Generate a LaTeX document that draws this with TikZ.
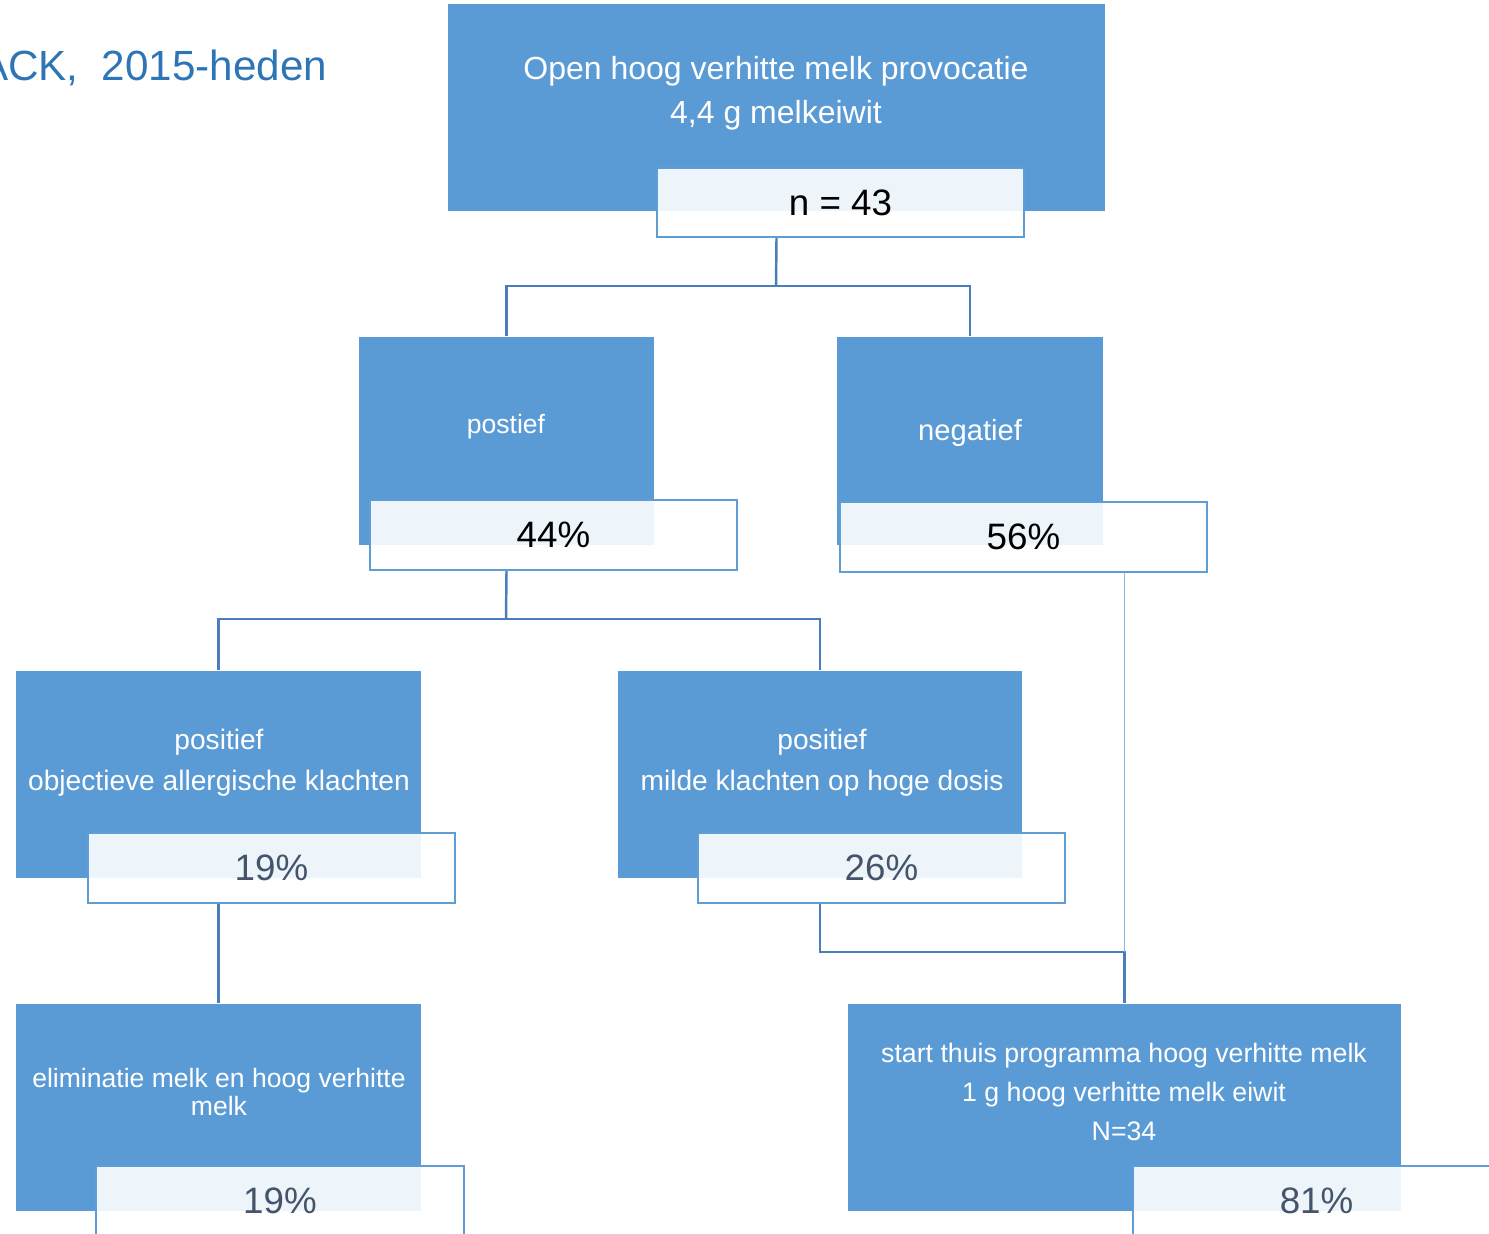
\documentclass[tikz,border=0pt]{standalone}
\usepackage{fontspec}
\setmainfont{Liberation Sans}
\definecolor{blokblauw}{HTML}{5B9BD5}
\definecolor{randblauw}{HTML}{5F9DD6}
\definecolor{lijnblauw}{HTML}{4A7EBB}
\definecolor{dunblauw}{HTML}{8DB8E2}
\definecolor{titelblauw}{HTML}{2E75B6}
\definecolor{grijstekst}{HTML}{44546A}
\tikzset{
  blok/.style={rectangle, fill=blokblauw, inner sep=0pt},
  etiket/.style={rectangle, draw=randblauw, line width=0.6pt, fill=white,
    fill opacity=0.9, text opacity=1, inner sep=0pt,
    minimum width=3.67cm, minimum height=0.70cm,
    font=\fontsize{10.45}{12}\selectfont},
  wit/.style={text=white, align=center, inner sep=0pt, anchor=base},
  lijn/.style={draw=lijnblauw, line width=0.7pt},
  dunlijn/.style={draw=dunblauw, line width=0.4pt},
}
\begin{document}
\begin{tikzpicture}[x=0.01cm,y=-0.01cm]
  \useasboundingbox (0,0) rectangle (1489,1233);
  % titel, links afgesneden
  \node[anchor=base east, inner sep=0pt, text=titelblauw,
    font=\fontsize{12}{14}\selectfont] (titel) at (328,80) {ACK,\ \ 2015-heden};
  % blauwe blokken
  \node[blok, minimum width=6.57cm, minimum height=2.07cm] (top) at (776.5,107.5) {};
  \node[blok, minimum width=2.95cm, minimum height=2.08cm] (pos) at (506.5,441) {};
  \node[blok, minimum width=2.66cm, minimum height=2.08cm] (neg) at (970,441) {};
  \node[blok, minimum width=4.05cm, minimum height=2.07cm] (links) at (218.5,774.5) {};
  \node[blok, minimum width=4.04cm, minimum height=2.07cm] (mid) at (820,774.5) {};
  \node[blok, minimum width=4.05cm, minimum height=2.07cm] (elim) at (218.5,1107.5) {};
  \node[blok, minimum width=5.53cm, minimum height=2.07cm] (start) at (1124.5,1107.5) {};
  % teksten in de blokken (base = laatste regel)
  \node[wit, font=\fontsize{9.1}{12.5}\selectfont] at (776,123)
    {Open hoog verhitte melk provocatie\\4,4 g melkeiwit};
  \node[wit, font=\fontsize{7.55}{9}\selectfont] at (506,433) {postief};
  \node[wit, font=\fontsize{8.3}{10}\selectfont] at (970,440) {negatief};
  \node[wit, font=\fontsize{8}{11.4}\selectfont] at (219,790)
    {positief\\objectieve allergische klachten};
  \node[wit, font=\fontsize{8}{11.4}\selectfont] at (822,790)
    {positief\\milde klachten op hoge dosis};
  \node[wit, font=\fontsize{7.55}{7.7}\selectfont] at (219,1115)
    {eliminatie melk en hoog verhitte\\melk};
  \node[wit, font=\fontsize{7.6}{11}\selectfont] at (1124,1140)
    {start thuis programma hoog verhitte melk\\1 g hoog verhitte melk eiwit\\N=34};
  % percentages
  \node[etiket, minimum height=0.69cm] (topn) at (840.5,202.5) {n = 43};
  \node[etiket] (posn) at (553.5,535) {44\%};
  \node[etiket] (negn) at (1023.5,537) {56\%};
  \node[etiket, text=grijstekst] (linksn) at (271.5,868) {19\%};
  \node[etiket, text=grijstekst] (midn) at (881.5,868) {26\%};
  \node[etiket, text=grijstekst] (elimn) at (280,1201) {19\%};
  \node[etiket, text=grijstekst] (startn) at (1316.5,1201) {81\%};
  % verbindingen
  \coordinate (splitA) at (776,286);
  \coordinate (splitB) at (506,619);
  \coordinate (splitC) at (1124.5,952);
  \draw[lijn] (top.center |- topn.south) -- (splitA);
  \draw[lijn] (pos.north) |- (splitA) -| (neg.north);
  \draw[lijn] (pos.center |- posn.south) -- (splitB);
  \draw[lijn] (links.north) |- (splitB) -| (mid.north);
  \draw[lijn] (links.center |- linksn.south) -- (elim.north);
  \draw[lijn] (mid.center |- midn.south) |- (splitC) -- (start.north);
  \draw[dunlijn] (start.north |- negn.south) -- (splitC);
\end{tikzpicture}
\end{document}
